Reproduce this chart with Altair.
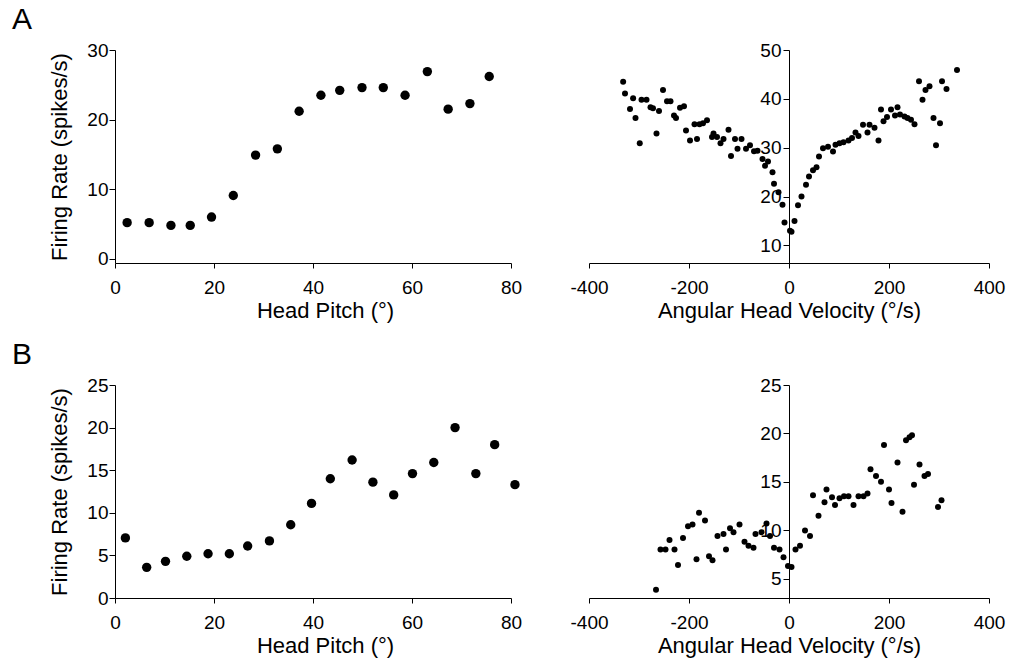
import altair as alt
import pandas as pd

FONT = "Liberation Sans"

# Panel A, head pitch tuning
a_pitch_x = [2.45, 6.9, 11.3, 15.2, 19.5, 23.9, 28.4, 32.8, 37.2, 41.6, 45.4, 49.9,
             54.2, 58.6, 63.1, 67.3, 71.7, 75.6]
a_pitch_y = [5.2, 5.2, 4.8, 4.8, 6.0, 9.1, 14.9, 15.8, 21.2, 23.5, 24.2, 24.6,
             24.6, 23.5, 26.9, 21.5, 22.3, 26.2]

# Panel A, angular head velocity tuning
a_ahv_x = [-331.7, -328, -311.8, -318, -307, -298.5, -295, -285, -277, -272, -265, -260,
           -252, -244, -237, -230, -226, -218, -210, -206, -198, -184, -189, -179,
           -172, -164, -154, -151, -144, -137, -131, -121, -116, -108, -103, -95,
           -86, -78, -70, -63, -53, -48, -42, -33, -30, -21, -13, -9, 2, 5,
           11, 18, 25, 34, 40, 48, 55, 60, 68, 78, 88, 93, 101, 109, 119, 126,
           133, 139, 148, 157, 161, 171, 179, 184, 189, 196, 204, 212, 217, 222,
           231, 237, 244, 251, 260, 267, 273, 281, 289, 294, 302, 306, 315, 336]
a_ahv_y = [43.5, 41.1, 40.1, 37.9, 36.1, 30.9, 39.8, 39.8, 38.3, 38.1, 32.9, 37.5,
           41.8, 39.5, 39.5, 36.6, 36.1, 38.2, 38.5, 33.5, 31.5, 31.8, 34.8, 34.8,
           35.0, 35.6, 32.2, 32.9, 32.2, 30.9, 31.8, 33.7, 28.3, 31.8, 29.8, 31.8,
           29.8, 30.5, 29.3, 29.4, 27.7, 26.3, 27.2, 25.0, 22.6, 20.9, 18.3, 14.7, 13.0, 12.8,
           15.0, 18.2, 20.0, 22.4, 24.1, 25.4, 26.0, 28.2, 29.9, 30.2, 29.2, 30.6, 30.9, 31.1, 31.5, 32.0,
           33.1, 32.4, 34.7, 33.1, 34.7, 34.1, 31.5, 37.8, 35.4, 36.3, 37.8, 36.6, 38.3, 36.8,
           36.4, 36.1, 35.7, 34.8, 43.6, 39.8, 41.8, 42.6, 36.1, 30.5, 35.0, 43.6, 42.0, 45.9]

# Panel B, head pitch tuning
b_pitch_x = [2.1, 6.4, 10.2, 14.5, 18.8, 23.1, 26.8, 31.2, 35.5, 39.7, 43.5, 47.9,
             52.1, 56.3, 60.1, 64.4, 68.7, 72.9, 76.7, 80.8]
b_pitch_y = [7.05, 3.6, 4.3, 4.9, 5.2, 5.2, 6.1, 6.7, 8.6, 11.1, 14.0, 16.2,
             13.6, 12.1, 14.6, 15.9, 20.0, 14.6, 18.0, 13.3]

# Panel B, angular head velocity tuning
b_ahv_x = [-266, -257, -247, -239, -229, -222, -212, -202, -193, -185, -180, -168,
           -160, -153, -143, -131, -126, -118, -111, -99, -89, -81, -71, -67, -55,
           -45, -38, -30, -19, -11, -2, 5, 13, 22, 32, 42, 48, 59, 71, 75, 86,
           92, 101, 110, 119, 129, 139, 149, 157, 163, 174, 184, 190, 200, 205,
           217, 227, 234, 241, 246, 250, 261, 271, 278, 298, 305]
b_ahv_y = [3.86, 8.0, 8.0, 9.0, 8.0, 6.4, 9.2, 10.4, 10.6, 7.0, 11.8, 11.0,
           7.3, 6.9, 9.4, 9.6, 8.0, 10.2, 9.8, 10.6, 8.8, 8.4, 8.2, 9.6, 9.8,
           10.7, 9.4, 8.2, 8.0, 7.2, 6.3, 6.2, 8.0, 8.4, 9.97, 9.4, 13.6, 11.5, 12.9, 14.2, 13.4,
           12.6, 13.3, 13.5, 13.5, 12.6, 13.5, 13.5, 13.8, 16.3, 15.6, 15.0, 18.8, 14.2, 12.8,
           17.0, 11.9, 19.3, 19.6, 19.8, 14.7, 16.8, 15.6, 15.8, 12.4, 13.1]

pitch_ticks = [0, 20, 40, 60, 80]
ahv_ticks = [-400, -200, 0, 200, 400]

LW, RW, H = 396, 400, 213


def letter_title(letter):
    return alt.TitleParams(letter, anchor="start", frame="group", dx=-103, offset=6,
                           fontSize=30, fontWeight="normal", font=FONT, color="black")


def pitch_panel(xs, ys, ydom, yticks, letter):
    df = pd.DataFrame({"x": xs, "y": ys})
    return alt.Chart(df).mark_circle(size=88, color="black", opacity=1).encode(
        x=alt.X("x:Q", scale=alt.Scale(domain=[0, 80], nice=False, zero=False),
                axis=alt.Axis(values=pitch_ticks, title="Head Pitch (°)", titleX=LW / 2 + 12,
                              tickSize=5, labelPadding=10, titlePadding=3)),
        y=alt.Y("y:Q", scale=alt.Scale(domain=ydom, nice=False, zero=False),
                axis=alt.Axis(values=yticks, title="Firing Rate (spikes/s)",
                              tickSize=6, labelPadding=1, titlePadding=15)),
    ).properties(width=LW, height=H, title=letter_title(letter))


def ahv_panel(xs, ys, ydom, yticks):
    df = pd.DataFrame({"x": xs, "y": ys})
    return alt.Chart(df).mark_circle(size=36, color="black", opacity=1).encode(
        x=alt.X("x:Q", scale=alt.Scale(domain=[-400, 400], nice=False, zero=False),
                axis=alt.Axis(values=ahv_ticks, title="Angular Head Velocity (°/s)",
                              labelExpr="'' + datum.value",
                              tickSize=5, labelPadding=10, titlePadding=3)),
        y=alt.Y("y:Q", scale=alt.Scale(domain=ydom, nice=False, zero=False),
                axis=alt.Axis(values=yticks, title=None, offset=-RW / 2,
                              tickSize=6, labelPadding=2)),
    ).properties(width=RW, height=H)


a1 = pitch_panel(a_pitch_x, a_pitch_y, [-0.6, 30], [0, 10, 20, 30], "A")
a2 = ahv_panel(a_ahv_x, a_ahv_y, [6.4, 50], [10, 20, 30, 40, 50])
b1 = pitch_panel(b_pitch_x, b_pitch_y, [0, 25], [0, 5, 10, 15, 20, 25], "B")
b2 = ahv_panel(b_ahv_x, b_ahv_y, [3, 25], [5, 10, 15, 20, 25])

chart = alt.concat(a1, a2, b1, b2, columns=2, spacing={"row": 122, "column": 78},
                   bounds="flush").properties(
    padding={"left": 12, "top": 5, "right": 5, "bottom": 5},
    background="white",
).configure_axis(
    labelFont=FONT, titleFont=FONT, labelFontSize=19, titleFontSize=22,
    titleFontWeight="normal", grid=False, domainColor="black", tickColor="black",
    labelColor="black", titleColor="black", domainWidth=1, tickWidth=1,
    labelFlush=False, labelOverlap=False,
).configure_view(stroke=None)

chart.save("out.html", embed_options={"renderer": "svg", "actions": False})
